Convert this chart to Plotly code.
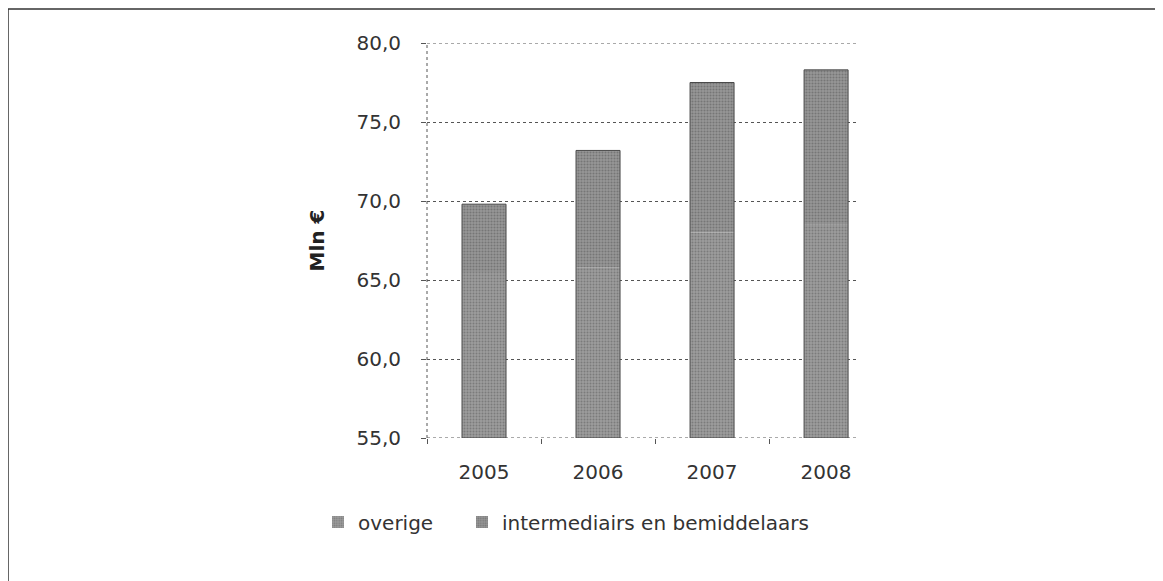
import plotly.graph_objects as go

years = ["2005", "2006", "2007", "2008"]
overige = [65.5, 65.8, 68.0, 68.5]
intermediairs = [4.3, 7.4, 9.5, 9.8]
y_ticks = [55, 60, 65, 70, 75, 80]

totals = [a + b for a, b in zip(overige, intermediairs)]

OFF = 8  # page body margin
W, H = 1155, 573
ML = 427 - OFF
MT = 43 - OFF
PR = 858 - OFF
PB = 438 - OFF
MR, MB = W - PR, H - PB
PW, PH = PR - ML, PB - MT

def px_x(page_x):
    return (page_x - OFF - ML) / PW

def px_y(page_y):
    return (PB - (page_y - OFF)) / PH

FAM = "DejaVu Sans, sans-serif"
font = dict(family=FAM, size=20, color="#333333")
BW = 0.386
Y0 = y_ticks[0]
Y1 = y_ticks[-1]
GRID = "#555555"

fig = go.Figure()
fig.add_trace(go.Bar(
    x=years, y=[v - Y0 for v in overige], base=Y0, name="overige",
    marker=dict(color="#909090", line=dict(width=0),
                pattern=dict(shape=".", fgcolor="#5a5a5a", bgcolor="#9c9c9c", size=3, solidity=0.35)),
    width=BW, legend="legend",
))
fig.add_trace(go.Bar(
    x=years, y=intermediairs, base=overige, name="intermediairs en bemiddelaars",
    marker=dict(color="#8a8a8a", line=dict(width=0),
                pattern=dict(shape=".", fgcolor="#555555", bgcolor="#979797", size=3, solidity=0.4)),
    width=BW, legend="legend2",
))
fig.add_trace(go.Bar(
    x=years, y=[t - Y0 for t in totals], base=Y0, showlegend=False, hoverinfo="skip",
    marker=dict(color="rgba(0,0,0,0)", line=dict(color="#4a4a4a", width=1)),
    width=BW,
))

legend_common = dict(orientation="h", yref="paper", xref="paper", xanchor="left", yanchor="middle",
                     font=dict(size=20, family=FAM, color="#333333"), bgcolor="rgba(0,0,0,0)",
                     itemwidth=30)

fig.update_layout(
    barmode="overlay",
    width=W, height=H,
    margin=dict(l=ML, r=MR, t=MT, b=MB, pad=0),
    paper_bgcolor="white", plot_bgcolor="white",
    separators=",.",
    font=font,
    showlegend=True,
    legend=dict(x=px_x(318), y=px_y(522), **legend_common),
    legend2=dict(x=px_x(462), y=px_y(522), **legend_common),
    xaxis=dict(
        range=[-0.5, 3.28], type="category",
        showgrid=False, showline=False,
        ticks="outside", ticklen=5, tickcolor=GRID, tickson="boundaries",
        tickfont=font, ticklabelstandoff=20,
    ),
    yaxis=dict(
        range=[Y0, Y1], tickvals=y_ticks, tickformat=".1f",
        showgrid=True, gridcolor=GRID, griddash="dot", gridwidth=1,
        showline=False,
        ticks="outside", ticklen=5, tickcolor=GRID,
        tickfont=font, ticklabelstandoff=16,
        title=dict(text="<b>Mln €</b>", font=dict(size=20, family=FAM, color="#222222"), standoff=26),
        zeroline=False,
    ),
    shapes=[
        dict(type="line", xref="paper", yref="paper", x0=px_x(8), x1=px_x(1175), y0=px_y(9), y1=px_y(9),
             line=dict(color="#333333", width=1.5)),
        dict(type="line", xref="paper", yref="paper", x0=px_x(8), x1=px_x(8), y0=px_y(9), y1=px_y(600),
             line=dict(color="#333333", width=1.5)),
        dict(type="line", xref="paper", yref="paper", x0=0, x1=0, y0=0, y1=1,
             line=dict(color=GRID, width=1, dash="dot")),
        dict(type="line", xref="paper", yref="y", x0=0, x1=1, y0=Y0, y1=Y0, layer="below",
             line=dict(color=GRID, width=1, dash="dot")),
        dict(type="line", xref="paper", yref="y", x0=0, x1=1, y0=Y1, y1=Y1, layer="below",
             line=dict(color=GRID, width=1, dash="dot")),
    ],
)
fig.write_html("out.html")
